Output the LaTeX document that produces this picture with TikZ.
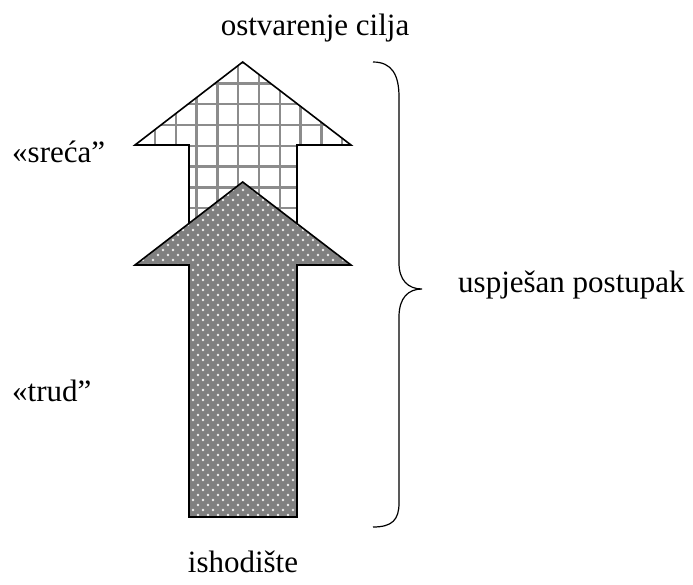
\documentclass[tikz,border=0pt]{standalone}
\usepackage{fontspec}
\setmainfont{Liberation Serif}
\definecolor{gridgray}{RGB}{140,140,140}
\definecolor{dotbg}{RGB}{128,128,128}
\definecolor{dotwhite}{RGB}{240,240,240}
\begin{document}
\begin{tikzpicture}[x=1pt,y=-1pt,
  outline/.style={draw=black,line width=1.6pt,line join=miter},
  gridline/.style={draw=gridgray,line width=2.4pt},
  dotfill/.style={fill=dotwhite},
  lbl/.style={font=\fontsize{31}{37}\selectfont,inner sep=0pt},
  bracepath/.style={draw=black,line width=1.2pt}]
\useasboundingbox (0,0) rectangle (693,584);
% upper arrow (grid)
\begin{scope}
\clip (242.7,62) -- (351,145) -- (297,145) -- (297,270) -- (189,270) -- (189,145) -- (135,145) -- cycle;
\fill[white] (130,55) rectangle (360,275);
\foreach \k in {-1,...,10} {
  \draw[gridline] ({155+20.8*\k},55) -- ({155+20.8*\k},275);
  \draw[gridline] (130,{83.3+20.8*(\k-2)}) -- (360,{83.3+20.8*(\k-2)});
}
\end{scope}
\draw[outline] (242.7,62) -- (351,145) -- (297,145) -- (297,270) -- (189,270) -- (189,145) -- (135,145) -- cycle;
% lower arrow (dots)
\begin{scope}
\clip (242.7,182) -- (351,265) -- (297,265) -- (297,517) -- (189,517) -- (189,265) -- (135,265) -- cycle;
\fill[dotbg] (130,175) rectangle (360,525);
\foreach \r in {0,...,70} {
  \pgfmathsetmacro{\yy}{180+5*\r}
  \pgfmathsetmacro{\off}{mod(\r,2)*5}
  \foreach \c in {0,...,22} {
    \fill[dotfill] ({133+\off+10*\c},\yy) circle (1.4);
  }
}
\end{scope}
\draw[outline] (242.7,182) -- (351,265) -- (297,265) -- (297,517) -- (189,517) -- (189,265) -- (135,265) -- cycle;
% brace
\coordinate (bt) at (373,62);
\coordinate (bm) at (422,289);
\coordinate (bb) at (373,527);
\draw[bracepath] (bt) .. controls (392,62) and (399,75) .. (399,97) -- (399,263)
  .. controls (399,280) and (408,289) .. (bm)
  .. controls (408,289) and (399,298) .. (399,317) -- (399,503)
  .. controls (399,520) and (392,527) .. (bb);
% labels
\node[lbl,anchor=base] (goal) at (315,35) {ostvarenje cilja};
\node[lbl,anchor=base west] (luck) at (12,162) {«sreća”};
\node[lbl,anchor=base west] (work) at (12,401) {«trud”};
\node[lbl,anchor=base west] (proc) at (458,292) {uspješan postupak};
\node[lbl,anchor=base] (start) at (243,572) {ishodište};
\end{tikzpicture}
\end{document}
